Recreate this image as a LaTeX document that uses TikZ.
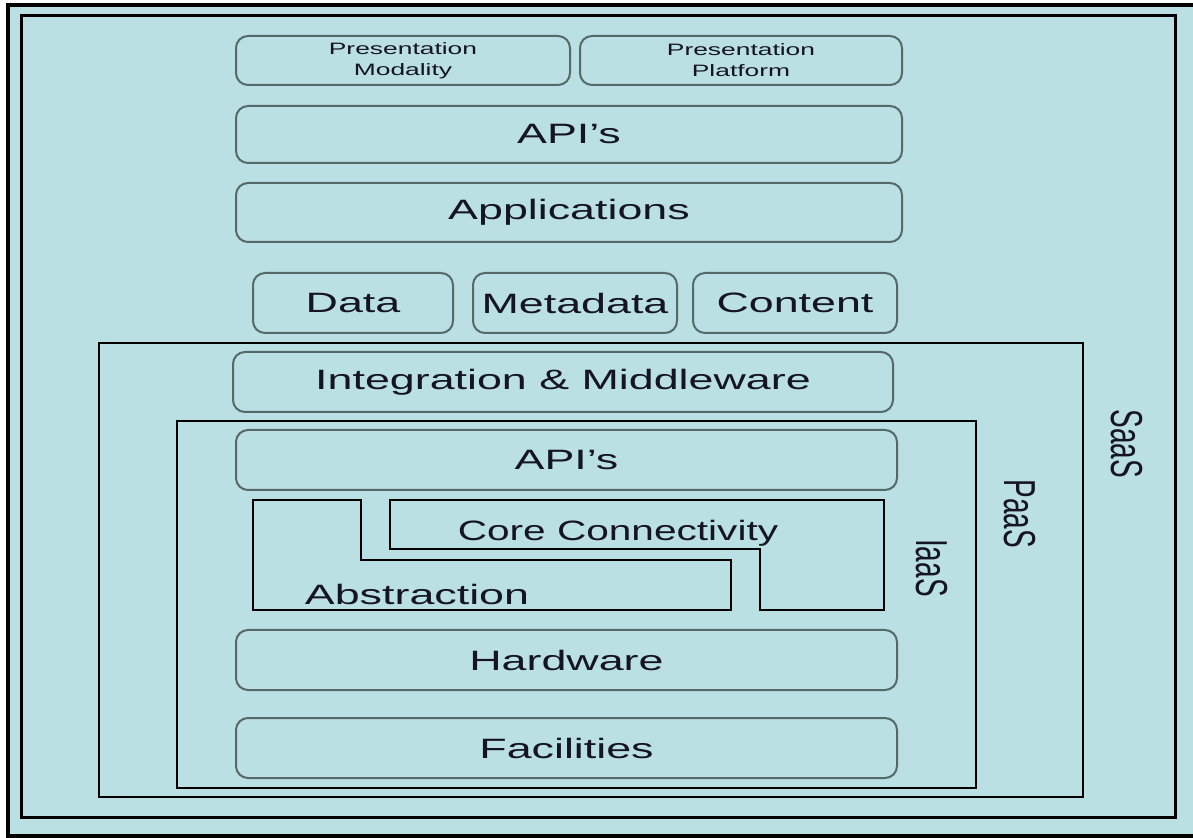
\documentclass[tikz,border=0pt]{standalone}
\usepackage{fontspec}
\setmainfont{Liberation Sans}
\usepackage{graphicx}
\usepackage{tikz}
\usetikzlibrary{positioning}
\definecolor{SkyFill}{RGB}{186,224,227}
\definecolor{BoxGray}{RGB}{85,105,105}
\definecolor{InkDark}{RGB}{20,20,35}
\newcommand{\wide}[2][1.6]{\scalebox{#1}[1]{#2}}
\newcommand{\sidelabel}[1]{\scalebox{1.6}[1]{\rotatebox{-90}{#1}}}

\begin{document}
\begin{tikzpicture}[
  x=0.5pt, y=-0.5pt,
  font=\fontsize{14}{16}\selectfont, text=InkDark,
  layer/.style={draw=BoxGray, line width=1pt, rounded corners=6pt, minimum height=30pt, inner sep=0pt},
  small/.style={font=\fontsize{8.25}{10.5}\selectfont, align=center},
  frame/.style={draw=black, line width=1.5pt},
  block/.style={draw=black, line width=1pt}
]
\useasboundingbox (0,0) rectangle (1193,838);

% Background and service frames
\fill[SkyFill] (8,5) rectangle (1193,837);
\draw[line width=1.6pt] (1193,5) -- (8,5) -- (8,836) -- (1193,836);
\draw[frame] (21,16) rectangle (1175,817);
\draw[frame, line width=1.25pt] (99,343) rectangle (1083,797);
\draw[frame, line width=1.25pt] (177,421) rectangle (976,788);

% Application side
\node[layer, small, minimum width=167pt, minimum height=24.5pt] (pmod) at (403,60.5) {\wide{Presentation}\\\wide{Modality}};
\node[layer, small, minimum width=161pt, minimum height=24.5pt] (pplat) at (741,60.5) {\wide{Presentation}\\\wide{Platform}};
\node[layer, minimum width=333pt, minimum height=28.5pt] (apitop) at (569,134.5) {\wide{API's}};
\node[layer, minimum width=333pt, minimum height=29.5pt] (apps) at (569,212.5) {\wide{Applications}};

% Information
\node[layer, minimum width=100pt] (data) at (353,303) {\wide{Data}};
\node[layer, minimum width=102pt] (meta) at (575,303) {\wide{Metadata}};
\node[layer, minimum width=102pt] (content) at (795,303) {\wide{Content}};

% Platform and infrastructure
\node[layer, minimum width=330pt] (integ) at (563,382) {\wide{Integration \& Middleware}};
\node[layer, minimum width=330.5pt] (apipaas) at (566.5,460) {\wide{API's}};

\draw[block] (253,500) -- (361,500) -- (361,560) -- (731,560) -- (731,610) -- (253,610) -- cycle;
\draw[block] (390,500) -- (884,500) -- (884,610) -- (760,610) -- (760,549) -- (390,549) -- cycle;
\node (core) at (618,533) {\wide[1.45]{Core Connectivity}};
\node (abstr) at (417,594) {\wide{Abstraction}};

\node[layer, minimum width=330.5pt] (hw) at (566.5,660) {\wide{Hardware}};
\node[layer, minimum width=330.5pt] (fac) at (566.5,748) {\wide{Facilities}};

% Service labels
\node (saaslbl) at (1127,444) {\sidelabel{SaaS}};
\node (paaslbl) at (1020,514) {\sidelabel{PaaS}};
\node (iaaslbl) at (932,568) {\sidelabel{IaaS}};
\end{tikzpicture}
\end{document}
